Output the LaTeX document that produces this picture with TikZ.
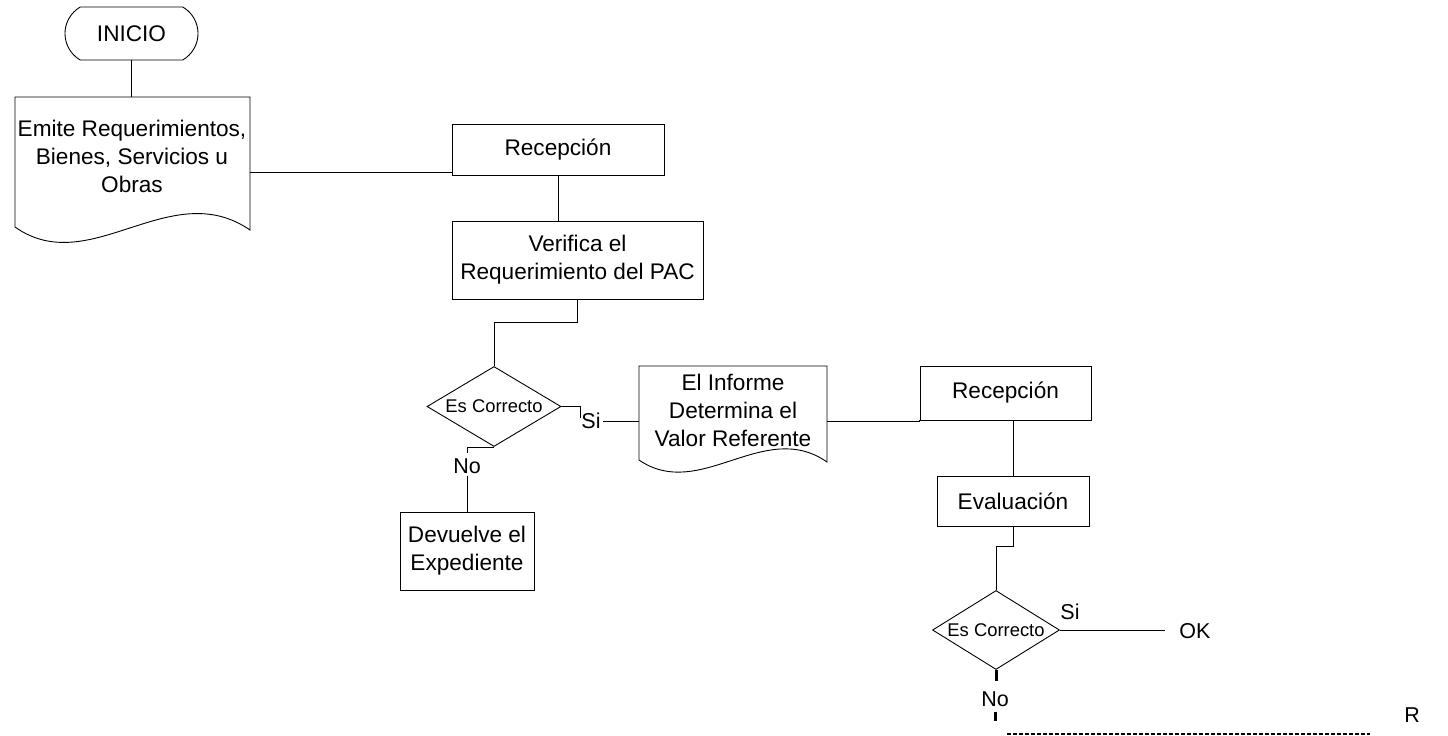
\documentclass[tikz,border=0pt]{standalone}
\usepackage{fontspec}
\setmainfont{Liberation Sans}
\usetikzlibrary{shapes.geometric,shapes.misc}

\begin{document}
\begin{tikzpicture}[x=1pt,y=-1pt, line width=0.9pt,
  base/.style={font=\fontsize{22.6}{28}\selectfont, align=center, inner sep=0pt},
  procbox/.style={base, draw, rectangle},
  termbox/.style={base, draw, rounded rectangle, rounded rectangle arc length=120},
  decision/.style={draw, diamond, aspect=1.675, inner sep=0pt, font=\fontsize{18.4}{22}\selectfont},
  frame/.style={rectangle, inner sep=0pt},
  lbl/.style={font=\fontsize{21.5}{24}\selectfont, inner sep=2pt},
  heavy/.style={line width=3pt},
  dashline/.style={line width=2pt, dash pattern=on 4pt off 2pt},
]
\useasboundingbox (0,0) rectangle (1448,736);

% start terminal
\node[termbox, minimum width=133pt, minimum height=53pt] (inicio) at (131.5,33.5) {INICIO};

% document: requirement issue
\node[frame, minimum width=235pt, minimum height=133pt] (emite) at (132.5,163.5) {};
\draw (15,227) -- (15,97) -- (250,97) -- (250,230)
      .. controls (170,175) and (90,280) .. (15,227);
\node[base] (emitetxt) at (132,156) {Emite Requerimientos,\\Bienes, Servicios u\\Obras};

% process boxes
\node[procbox, minimum width=212pt, minimum height=51pt] (rec1) at (558,149.5) {Recepción};
\node[procbox, minimum width=251pt, minimum height=78pt] (verif) at (577.5,260) {\raisebox{-3pt}{Verifica el}\\\raisebox{-3pt}{Requerimiento del PAC}};
\node[decision, minimum width=134pt, minimum height=80pt] (dia1) at (494,406.5) {Es Correcto};
\node[lbl, anchor=west] (si1) at (579,421) {Si};
\node[lbl] (no1) at (467,466) {No};
\node[procbox, minimum width=134pt, minimum height=78pt] (devuelve) at (467,551) {Devuelve el\\Expediente};

% document: report
\node[frame, minimum width=188pt, minimum height=110pt] (informe) at (733,421) {};
\draw (639,460) -- (639,366) -- (827,366) -- (827,462)
      .. controls (764,418) and (700,502) .. (639,460);
\node[base] (informetxt) at (733,410) {El Informe\\Determina el\\Valor Referente};

\node[procbox, minimum width=171pt, minimum height=54pt] (rec2) at (1005.5,393) {Recepción};
\node[procbox, minimum width=152pt, minimum height=50pt] (eval) at (1013,501) {Evaluación};
\node[decision, minimum width=127pt, minimum height=79pt] (dia2) at (996,630) {Es Correcto};
\node[lbl] (si2) at (1070,612) {Si};
\node[lbl] (ok) at (1195,631) {OK};
\node[lbl] (no2) at (995,699) {No};
\node[lbl] (rr) at (1412,715) {R};
\coordinate (dashA) at (1007,734);
\coordinate (dashB) at (1370,734);

% connectors
\draw (inicio.south) -- (inicio.south |- emite.north);
\coordinate (j1) at ([yshift=3pt]rec1.south west);
\draw (j1) -- (j1 -| emite.east);
\draw (rec1.south) -- (rec1.south |- verif.north);
\draw (verif.south) -- ++(0,23) -| (dia1.north);
\draw (dia1.east) -- ++(19,0) -- ++(0,11);
\draw (si1.east) -- (si1.east -| informe.west);
\draw (dia1.south) -- ++(-27,0) -- ++(0,6);
\draw (no1.south) -- (no1.south |- devuelve.north);
\draw (informe.east) -| (rec2.south west);
\draw (eval.north) -- (eval.north |- rec2.south);
\draw (eval.south) -- ++(0,20) -| (dia2.north);
\coordinate (okend) at ([xshift=-12pt]ok.west);
\draw (dia2.east) -- (dia2.east -| okend);
\draw[heavy] (dia2.south) -- ++(0,11);
\draw[heavy] ([yshift=-3pt]no2.south) -- ++(0,9);
\draw[dashline] (dashA) -- (dashB);
\end{tikzpicture}
\end{document}
